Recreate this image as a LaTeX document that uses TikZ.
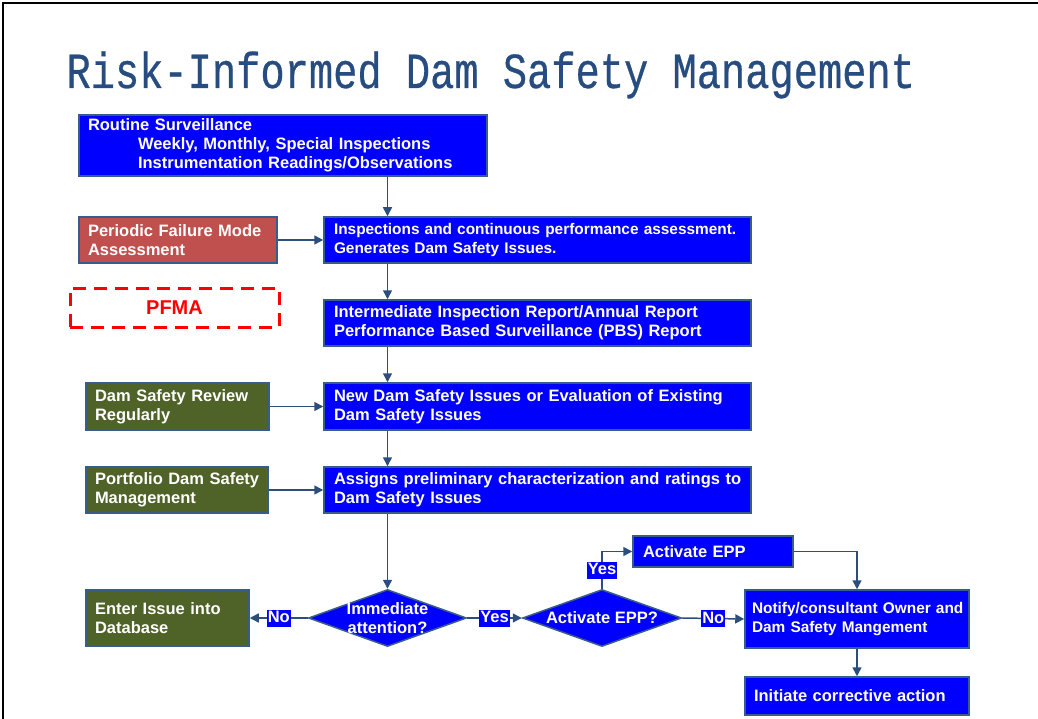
\documentclass[tikz,border=0pt]{standalone}
\usepackage{fontspec}
\setmainfont{Liberation Sans}
\newfontfamily\titlefont{Liberation Mono}[FakeBold=0.6]
\usetikzlibrary{shapes.geometric}
\usetikzlibrary{arrows.meta}
\definecolor{boxblue}{RGB}{0,0,255}
\definecolor{edgeblue}{RGB}{56,93,138}
\definecolor{arrowblue}{RGB}{44,78,125}
\definecolor{riskred}{RGB}{192,80,77}
\definecolor{boxgreen}{RGB}{79,98,40}
\definecolor{titleblue}{RGB}{38,76,128}

\begin{document}
\begin{tikzpicture}[x=1pt,y=-1pt,
    every node/.style={text=white, font=\bfseries\fontsize{16.5}{19}\selectfont},
    box/.style={draw=edgeblue, line width=1.5pt, align=left, inner xsep=9pt, inner ysep=0pt, minimum height=46pt},
    mainbox/.style={box, fill=boxblue, text width=407pt, inner xsep=10pt},
    sidebox/.style={box, fill=boxgreen},
    decision/.style={diamond, draw=edgeblue, line width=1.5pt, fill=boxblue, inner sep=0pt, minimum width=158pt, minimum height=57pt},
    tag/.style={fill=boxblue, inner xsep=1pt, inner ysep=0pt, text height=13pt, text depth=4pt},
    arr/.style={draw=arrowblue, line width=1.5pt, -{Triangle[length=9pt,width=9pt]}}]
    \useasboundingbox (0,0) rectangle (1038,719);
    \draw[line width=2.5pt] (1038,3) -- (3,3) -- (3,719); % page frame

    \node[anchor=base west, text=titleblue, font=\titlefont\fontsize{40.4}{40}\selectfont] (title) at (63,88)
        {\scalebox{1}[1.25]{Risk-Informed Dam Safety Management}};

    % main column
    \node[mainbox, text width=390pt, inner xsep=9pt, minimum height=61pt] (surv) at (283,145.5)
        {Routine Surveillance\\\hspace*{50pt}Weekly, Monthly, Special Inspections\\\hspace*{50pt}Instrumentation Readings/Observations};
    \node[mainbox, font=\bfseries\fontsize{15.4}{19}\selectfont] (insp) at (537.5,240)
        {Inspections and continuous performance assessment.\\Generates Dam Safety Issues.};
    \node[mainbox] (inter) at (537.5,323) {Intermediate Inspection Report/Annual Report\\Performance Based Surveillance (PBS) Report};
    \node[mainbox, minimum height=47pt] (newi) at (537.5,406.5) {New Dam Safety Issues or Evaluation of Existing\\Dam Safety Issues};
    \node[mainbox] (assg) at (537.5,490) {\mbox{Assigns preliminary characterization and ratings to}\\Dam Safety Issues};

    % inputs on the left
    \node[box, fill=riskred, text width=180pt] (pfm) at (178,240) {Periodic Failure Mode\\Assessment};
    \node[draw=red, line width=3pt, dash pattern=on 13pt off 8pt, minimum width=209pt, minimum height=39pt,
        text=red, font=\bfseries\fontsize{20}{24}\selectfont] (pfma) at (174.5,307.5) {PFMA};
    \node[sidebox, text width=165pt, minimum height=47pt] (dsr) at (177.5,406.5) {Dam Safety Review\\Regularly};
    \node[sidebox, text width=164pt] (port) at (177,490) {\mbox{Portfolio Dam Safety}\\Management};

    % decisions
    \node[decision, label={[align=center]center:{Immediate\\attention?}}] (imm) at (387.5,618) {};
    \node[decision, minimum width=159pt, label={center:Activate EPP?}] (epp) at (602,618) {};
    \node[sidebox, text width=145pt, minimum height=56pt] (dbase) at (167.5,618) {Enter Issue into\\Database};
    \node[box, fill=boxblue, text width=140pt, inner xsep=10pt, minimum height=31pt] (eppbox) at (713,551.5) {Activate EPP};
    \node[box, fill=boxblue, text width=210pt, inner xsep=7pt, minimum height=58pt,
        font=\bfseries\fontsize{15.4}{19}\selectfont] (notify) at (857,619) {\mbox{Notify/consultant Owner and}\\Dam Safety Mangement};
    \node[box, fill=boxblue, text width=206pt, minimum height=38pt] (init) at (857,696) {Initiate corrective action};

    % connectors
    \coordinate (spine) at (387.5,0);
    \draw[arr] (surv.south -| spine) -- (insp.north -| spine);
    \draw[arr] (insp.south -| spine) -- (inter.north -| spine);
    \draw[arr] (inter.south -| spine) -- (newi.north -| spine);
    \draw[arr] (newi.south -| spine) -- (assg.north -| spine);
    \draw[arr] (assg.south -| spine) -- (imm.north);
    \draw[arr] (pfm.east) -- (insp.west);
    \draw[arr] (dsr.east) -- (newi.west);
    \draw[arr] (port.east) -- (assg.west);
    \draw[arr] (imm.west) -- node[tag] {No} (dbase.east);
    \draw[arr] (imm.east) -- node[tag] {Yes} (epp.west);
    \draw[arr] (epp.north) -- node[tag] {Yes} (epp.north |- eppbox.west) -- (eppbox.west);
    \draw[arr] (eppbox.east) -| (notify.north);
    \draw[arr] (epp.east) -- node[tag] {No} (notify.west);
    \draw[arr] (notify.south) -- (init.north);
\end{tikzpicture}
\end{document}
